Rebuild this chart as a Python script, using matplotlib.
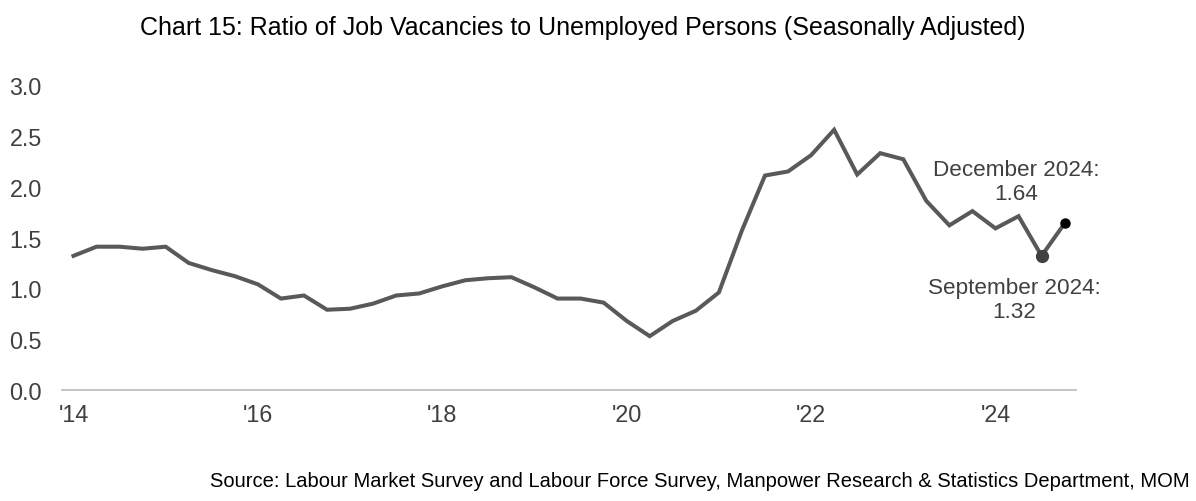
import numpy as np
import matplotlib
matplotlib.use("Agg")
import matplotlib.pyplot as plt

plt.rcParams['font.family'] = ['Liberation Sans', 'DejaVu Sans']

# quarterly ratio, 2014 Q1 .. 2024 Q4
quarters = [f"{y}Q{q}" for y in range(2014, 2025) for q in range(1, 5)]
ratio = [1.32, 1.41, 1.41, 1.39, 1.41, 1.25, 1.18, 1.12,
         1.04, 0.90, 0.93, 0.79, 0.80, 0.85, 0.93, 0.95,
         1.02, 1.08, 1.10, 1.11, 1.01, 0.90, 0.90, 0.86,
         0.68, 0.53, 0.68, 0.78, 0.96, 1.57, 2.11, 2.15,
         2.31, 2.56, 2.12, 2.33, 2.27, 1.86, 1.62, 1.76,
         1.59, 1.71, 1.32, 1.64]
tick_pos = [0, 8, 16, 24, 32, 40]
tick_labels = ["'14", "'16", "'18", "'20", "'22", "'24"]
yticks = [0.0, 0.5, 1.0, 1.5, 2.0, 2.5, 3.0]

title = "Chart 15: Ratio of Job Vacancies to Unemployed Persons (Seasonally Adjusted)"
source = "Source: Labour Market Survey and Labour Force Survey, Manpower Research & Statistics Department, MOM"

text_col = "#404040"
line_col = "#595959"

fig = plt.figure(figsize=(11.96, 5.02), dpi=100)
ax = fig.add_axes([0.0518, 0.221, 0.848, 0.6076])

x = np.arange(len(ratio))
ax.plot(x, ratio, color=line_col, lw=2.9, solid_joinstyle='miter', zorder=2)

# highlighted points
ax.plot(x[-2], ratio[-2], 'o', color="#404040", ms=8.5, zorder=3)
ax.plot(x[-1], ratio[-1], 'o', color="black", ms=6.5, zorder=3)

ax.text(40.9, 2.05, f"December 2024:\n{ratio[-1]:.2f}", ha='center', va='center',
        fontsize=16.2, color=text_col, linespacing=1.2)
ax.text(40.8, 0.89, f"September 2024:\n{ratio[-2]:.2f}", ha='center', va='center',
        fontsize=16.2, color=text_col, linespacing=1.2)

ax.set_xlim(-0.5, 43.5)
ax.set_ylim(0, 3.0)
ax.set_yticks(yticks)
ax.set_yticklabels([f"{v:.1f}" for v in yticks])
ax.set_xticks(tick_pos)
ax.set_xticklabels(tick_labels)
ax.tick_params(axis='both', length=0, labelsize=16.8, labelcolor=text_col)
ax.tick_params(axis='y', pad=14.4)
ax.tick_params(axis='x', pad=9)

for s in ['top', 'right', 'left']:
    ax.spines[s].set_visible(False)
ax.spines['bottom'].set_color("#bfbfbf")
ax.spines['bottom'].set_linewidth(1.3)

fig.text(0.487, 0.945, title, ha='center', va='center', fontsize=18, color="black")
fig.text(0.995, 0.04, source, ha='right', va='center', fontsize=14.5, color="black")

fig.savefig("out.png", dpi=100)
